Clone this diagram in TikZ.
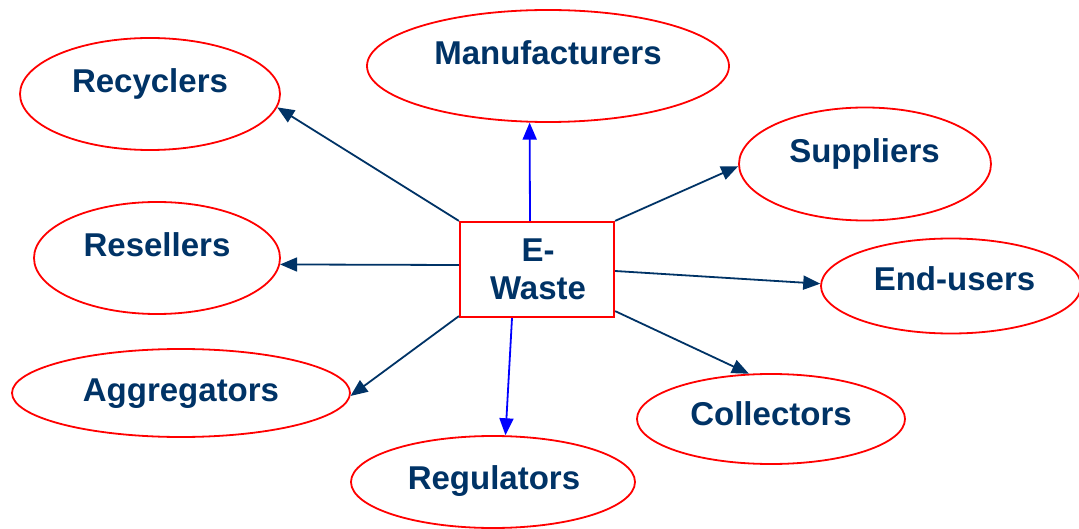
\documentclass[tikz,border=0pt]{standalone}
\usepackage{fontspec}
\setmainfont{Liberation Sans}
\usetikzlibrary{shapes.geometric,arrows.meta}
\definecolor{navy}{HTML}{003366}
\definecolor{pureblue}{HTML}{0000FF}
\definecolor{pured}{HTML}{FF0000}
\begin{document}
\begin{tikzpicture}[x=1pt,y=-1pt,
  party/.style={ellipse,draw=pured,line width=1.8pt,inner sep=0pt,fill=white},
  tag/.style={anchor=base,text=navy,font=\fontsize{33}{38}\selectfont\bfseries,inner sep=0pt},
  hub/.style={rectangle,draw=pured,line width=2.2pt,fill=white,inner sep=0pt,
    minimum width=154pt,minimum height=95pt},
  link/.style={draw=navy,line width=1.8pt,-{Triangle[length=17pt,width=14pt]}},
  bluelink/.style={draw=pureblue,line width=1.8pt,-{Triangle[length=17pt,width=14pt]}}]
  \fill[white] (0,0) rectangle (1079,529);
  \useasboundingbox (0,0) rectangle (1079,529);

  % central box
  \node[hub] (ew) at (537,269.5) {};
  \node[tag] (ew1) at (538,262) {E-};
  \node[tag] (ew2) at (538,300) {Waste};

  % stakeholder ellipses
  \node[party,minimum width=260pt,minimum height=112pt] (rec) at (150,94) {};
  \node[tag] (recT) at (150,93) {Recyclers};

  \node[party,minimum width=362pt,minimum height=112pt] (man) at (548,66) {};
  \node[tag] (manT) at (548,65) {Manufacturers};

  \node[party,minimum width=252pt,minimum height=113pt] (sup) at (865,164) {};
  \node[tag] (supT) at (864.5,163) {Suppliers};

  \node[party,minimum width=246pt,minimum height=112pt] (res) at (157,258) {};
  \node[tag] (resT) at (157,257) {Resellers};

  \node[party,minimum width=260pt,minimum height=95pt] (end) at (951,286) {};
  \node[tag] (endT) at (954.5,291) {End-users};

  \node[party,minimum width=338pt,minimum height=88pt] (agg) at (181,393) {};
  \node[tag] (aggT) at (181,401) {Aggregators};

  \node[party,minimum width=268pt,minimum height=90pt] (col) at (771,419) {};
  \node[tag] (colT) at (771,425) {Collectors};

  \node[party,minimum width=284pt,minimum height=92pt] (reg) at (493,482) {};
  \node[tag] (regT) at (494,489) {Regulators};

  % connectors from the box
  \draw[link] (ew.north west) -- (rec.-6);
  \draw[bluelink] ([xshift=-7pt]ew.north) -- (man.-108);
  \draw[link] (ew.north east) -- (sup.181);
  \draw[link] ([yshift=4.5pt]ew.west) -- (res.-3.5);
  \draw[link] ([yshift=-1.5pt]ew.east) -- (end.179);
  \draw[link] ([yshift=2pt]ew.south west) -- (agg.-1);
  \draw[bluelink] ([xshift=-25pt]ew.south) -- (reg.75);
  \draw[link] ([yshift=7pt]ew.south east) -- (col.116);
\end{tikzpicture}
\end{document}
